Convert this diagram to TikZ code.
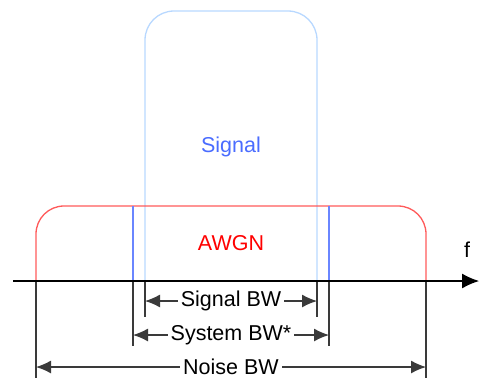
\documentclass[tikz,border=0pt]{standalone}
\usepackage{fontspec}
\setmainfont{Liberation Sans}
\usetikzlibrary{arrows.meta}
\definecolor{sigbox}{HTML}{B8D8FF}
\definecolor{sigtext}{HTML}{4A6CFF}
\definecolor{sysline}{HTML}{6A86FF}
\definecolor{noisecurve}{HTML}{FF5A5A}
\definecolor{dimgray}{HTML}{3A3A3A}
\tikzset{
  lbl/.style={font=\fontsize{21.5}{25}\selectfont, inner sep=0pt},
  dimline/.style={draw=dimgray, line width=1.2pt},
  dimarrow/.style={draw=dimgray, line width=1.2pt, {Latex[length=15pt,width=13pt]}-{Latex[length=15pt,width=13pt]}},
  dimlbl/.style={lbl, fill=white, inner xsep=3pt, inner ysep=0pt},
}
\begin{document}
\begin{tikzpicture}[x=1pt,y=-1pt]
\useasboundingbox (0,0) rectangle (479,378);
% coordinates
\coordinate (axL) at (13,281);
\coordinate (axR) at (479,281);
\coordinate (nL) at (36,281);
\coordinate (nR) at (426,281);
\coordinate (sL) at (145,281);
\coordinate (sR) at (317,281);
\coordinate (yL) at (133,281);
\coordinate (yR) at (329,281);
% signal box
\draw[sigbox, line width=1.3pt, rounded corners=29pt] (sL) -- (145,11) -- (317,11) -- (sR);
% noise curve
\draw[noisecurve, line width=1.3pt, rounded corners=28pt] (nL) -- (36,206) -- (426,206) -- (nR);
% system lines
\draw[sysline, line width=1.3pt] (yL) -- (133,206);
\draw[sysline, line width=1.3pt] (yR) -- (329,206);
% labels
\node[lbl, text=sigtext] (sig) at (231,147) {Signal};
\node[lbl, text=red] (awgn) at (231,243) {AWGN};
\node[lbl] (f) at (467,250) {f};
% extension lines
\draw[dimline] (sL) -- (145,317) coordinate (sLb);
\draw[dimline] (sR) -- (317,317) coordinate (sRb);
\draw[dimline] (yL) -- (133,346) coordinate (yLb);
\draw[dimline] (yR) -- (329,346) coordinate (yRb);
\draw[dimline] (nL) -- (36,378) coordinate (nLb);
\draw[dimline] (nR) -- (426,378) coordinate (nRb);
% axis
\draw[black, line width=1.2pt, -{Latex[length=17pt,width=15pt]}] (axL) -- (axR);
% dimension arrows
\coordinate (d1L) at (145,301); \coordinate (d1R) at (317,301);
\coordinate (d2L) at (133,335); \coordinate (d2R) at (329,335);
\coordinate (d3L) at (36,367);  \coordinate (d3R) at (426,367);
\draw[dimarrow] (d1L) -- (d1R) node[dimlbl, pos=0.5] (l1) {Signal BW};
\draw[dimarrow] (d2L) -- (d2R) node[dimlbl, pos=0.5] (l2) {System BW*};
\draw[dimarrow] (d3L) -- (d3R) node[dimlbl, at={(231,367)}] (l3) {Noise BW};
\end{tikzpicture}
\end{document}
